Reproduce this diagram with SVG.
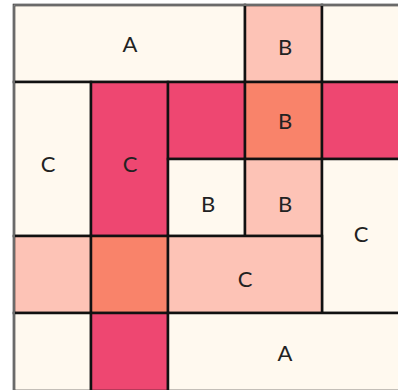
<svg xmlns="http://www.w3.org/2000/svg" width="398" height="390" viewBox="0 0 398 390">
<style>
.cell{stroke:#111;stroke-width:2.5}
.cr{fill:#FFF9EF}.lp{fill:#FDC3B6}.or{fill:#F9836A}.rd{fill:#EE4771}
text{font-family:"Lato","DejaVu Sans",sans-serif;font-size:22px;fill:#222;text-anchor:middle;dominant-baseline:central}
</style>
<rect x="0" y="0" width="398" height="390" fill="#fff"/>
<g id="n1"><rect class="cell cr" x="14" y="5" width="231" height="77"/><text x="130" y="43">A</text></g>
<g id="n2"><rect class="cell lp" x="245" y="5" width="77" height="77"/><text x="285" y="46">B</text></g>
<g id="n3"><rect class="cell cr" x="322" y="5" width="78" height="77"/></g>
<g id="n4"><rect class="cell cr" x="14" y="82" width="77" height="154"/><text x="48" y="163">C</text></g>
<g id="n5"><rect class="cell rd" x="91" y="82" width="77" height="154"/><text x="130" y="163">C</text></g>
<g id="n6"><rect class="cell rd" x="168" y="82" width="77" height="77"/></g>
<g id="n7"><rect class="cell or" x="245" y="82" width="77" height="77"/><text x="285" y="120">B</text></g>
<g id="n8"><rect class="cell rd" x="322" y="82" width="78" height="77"/></g>
<g id="n9"><rect class="cell cr" x="168" y="159" width="77" height="77"/><text x="208" y="203">B</text></g>
<g id="n10"><rect class="cell lp" x="245" y="159" width="77" height="77"/><text x="285" y="203">B</text></g>
<g id="n11"><rect class="cell cr" x="322" y="159" width="78" height="154"/><text x="361" y="233">C</text></g>
<g id="n12"><rect class="cell lp" x="14" y="236" width="77" height="77"/></g>
<g id="n13"><rect class="cell or" x="91" y="236" width="77" height="77"/></g>
<g id="n14"><rect class="cell lp" x="168" y="236" width="154" height="77"/><text x="245" y="278">C</text></g>
<g id="n15"><rect class="cell cr" x="14" y="313" width="77" height="78"/></g>
<g id="n16"><rect class="cell rd" x="91" y="313" width="77" height="78"/></g>
<g id="n17"><rect class="cell cr" x="168" y="313" width="232" height="78"/><text x="285" y="352">A</text></g>
<g id="connectors"></g>
<rect x="14" y="5" width="386" height="386" fill="none" stroke="#888" stroke-width="1.5"/>
</svg>
